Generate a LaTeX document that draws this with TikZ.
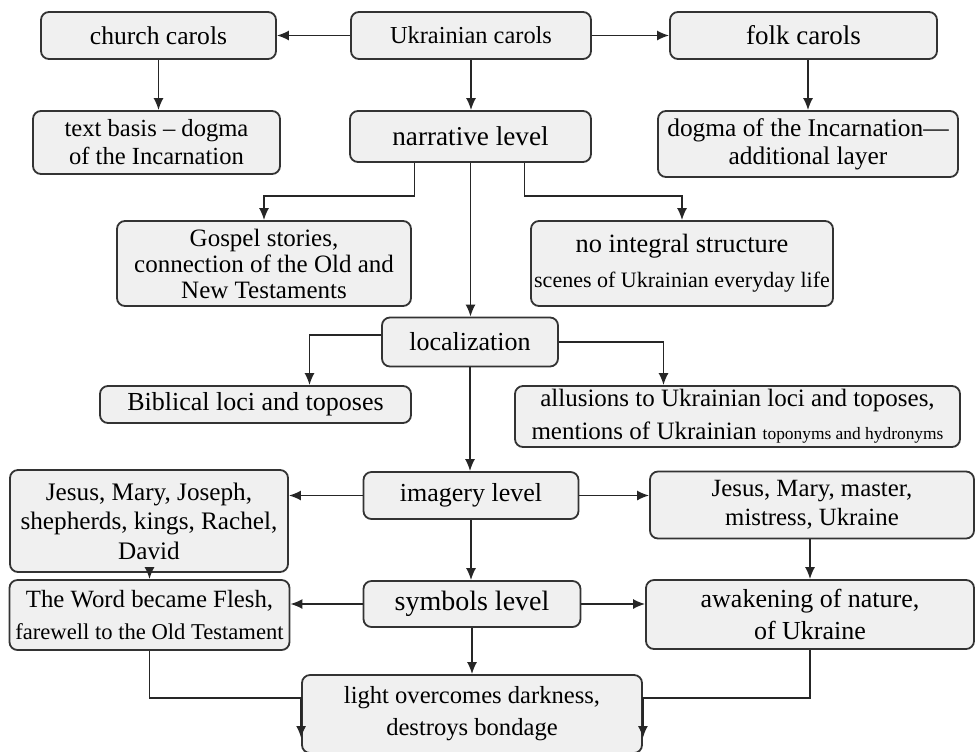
\documentclass[tikz,border=0pt]{standalone}
\usepackage{fontspec}
\setmainfont{Liberation Serif}
\usetikzlibrary{arrows.meta}
\tikzset{
    box/.style={
        draw=black!80,
        line width=0.9pt,
        rounded corners=4pt,
        fill=gray!12,
        align=center,
        inner sep=0pt,
        font=\fontsize{12.5}{15}\selectfont
    },
    line/.style={
        -{Latex[length=6pt,width=5pt]},
        line width=0.8pt,
        black!85
    }
}
\begin{document}
\begin{tikzpicture}[x=0.5pt,y=-0.5pt]
\useasboundingbox (0,0) rectangle (978,751);

% top row
\node[box, minimum width=117.5pt, minimum height=23.5pt, font=\fontsize{12.8}{15}\selectfont] (church) at (158.5,35.5) {church carols};
\node[box, minimum width=120pt, minimum height=23.5pt, font=\fontsize{12.2}{15}\selectfont] (ukr) at (471,35.5) {Ukrainian carols};
\node[box, minimum width=133.5pt, minimum height=23.5pt, font=\fontsize{13.5}{15}\selectfont] (folk) at (803.5,35.5) {folk carols};

% second row
\node[box, minimum width=123.5pt, minimum height=31.5pt, font=\fontsize{12.3}{14}\selectfont] (basis) at (156.5,142.5) {text basis -- dogma\\of the Incarnation};
\node[box, minimum width=120.5pt, minimum height=25.5pt, font=\fontsize{13.6}{15}\selectfont] (narr) at (470.5,136.5) {narrative level};
\node[box, minimum width=150pt, minimum height=33pt, font=\fontsize{12.7}{14}\selectfont] (dogma) at (808,144) {dogma of the Incarnation---\\additional layer};

% narrative branches
\node[box, minimum width=147pt, minimum height=42.5pt, font=\fontsize{12.5}{13}\selectfont] (gospel) at (264,263.5) {Gospel stories,\\connection of the Old and\\New Testaments};
\node[box, minimum width=151pt, minimum height=42.5pt, font=\fontsize{13.2}{17.5}\selectfont] (nointeg) at (682,263.5) {no integral structure\\{\fontsize{11}{17.5}\selectfont scenes of Ukrainian everyday life}};

% localization
\node[box, minimum width=88pt, minimum height=24.5pt, font=\fontsize{13}{15}\selectfont] (loc) at (470,342) {localization};
\node[box, minimum width=155.5pt, minimum height=18.5pt, font=\fontsize{13}{15}\selectfont] (bibl) at (255.5,404.5) {Biblical loci and toposes};
\node[box, minimum width=222.5pt, minimum height=30.5pt, font=\fontsize{12.5}{16.5}\selectfont] (allus) at (737.5,416.5) {allusions to Ukrainian loci and toposes,\\mentions of Ukrainian {\fontsize{8.7}{16.5}\selectfont toponyms and hydronyms}};

% imagery level
\node[box, minimum width=107.5pt, minimum height=23.5pt, font=\fontsize{13}{15}\selectfont] (imag) at (471,495.5) {imagery level};
\node[box, minimum width=139pt, minimum height=51pt, font=\fontsize{12.6}{14.7}\selectfont] (jesusA) at (149,521) {Jesus, Mary, Joseph,\\shepherds, kings, Rachel,\\David};
\node[box, minimum width=162pt, minimum height=33.5pt, font=\fontsize{12.4}{14.5}\selectfont] (jesusB) at (812,505) {Jesus, Mary, master,\\mistress, Ukraine};

% symbols level
\node[box, minimum width=108.5pt, minimum height=23pt, font=\fontsize{14}{15}\selectfont] (symb) at (472,604) {symbols level};
\node[box, minimum width=140pt, minimum height=35pt, font=\fontsize{12.4}{16}\selectfont] (word) at (149.5,615) {The Word became Flesh,\\{\fontsize{11.3}{16}\selectfont farewell to the Old Testament}};
\node[box, minimum width=164pt, minimum height=34.5pt, font=\fontsize{13}{16}\selectfont] (awak) at (810,614.5) {awakening of nature,\\of Ukraine};

% bottom
\node[box, minimum width=170pt, minimum height=39pt, font=\fontsize{12.3}{16}\selectfont] (light) at (472,714) {light overcomes darkness,\\destroys bondage};

% connectors
\draw[line] (ukr) -- (church);
\draw[line] (ukr) -- (folk);
\draw[line] (church) -- (church |- basis.north);
\draw[line] (ukr) -- (ukr |- narr.north);
\draw[line] (dogma.north |- folk.south) -- (dogma.north);

\draw[line] ([xshift=-28pt]narr.south) -- ++(0,-16.5pt) -| (gospel.north);
\draw[line] ([xshift=27pt]narr.south) -- ++(0,-16.5pt) -| (nointeg.north);
\draw[line] (narr) -- (narr |- loc.north);

\draw[line] ([yshift=3.5pt]loc.west) -| ([xshift=27pt]bibl.north);
\draw[line] (loc.east) -| ([xshift=-37pt]allus.north);
\draw[line] (loc) -- (loc |- imag.north);

\draw[line] (imag) -- (imag -| jesusA.east);
\draw[line] (imag) -- (imag -| jesusB.west);
\draw[line] (word.north |- jesusA.south) -- (word.north);
\draw[line] (awak.north |- jesusB.south) -- (awak.north);
\draw[line] (imag) -- (imag |- symb.north);

\draw[line] (symb) -- (symb -| word.east);
\draw[line] (symb) -- (symb -| awak.west);
\draw[line] (symb) -- (symb |- light.north);

\draw[line] (word.south) |- ([yshift=8pt]light.west) -- ([yshift=-12pt]light.west);
\draw[line] (awak.south) |- ([yshift=8pt]light.east) -- ([yshift=-12pt]light.east);

\end{tikzpicture}
\end{document}
